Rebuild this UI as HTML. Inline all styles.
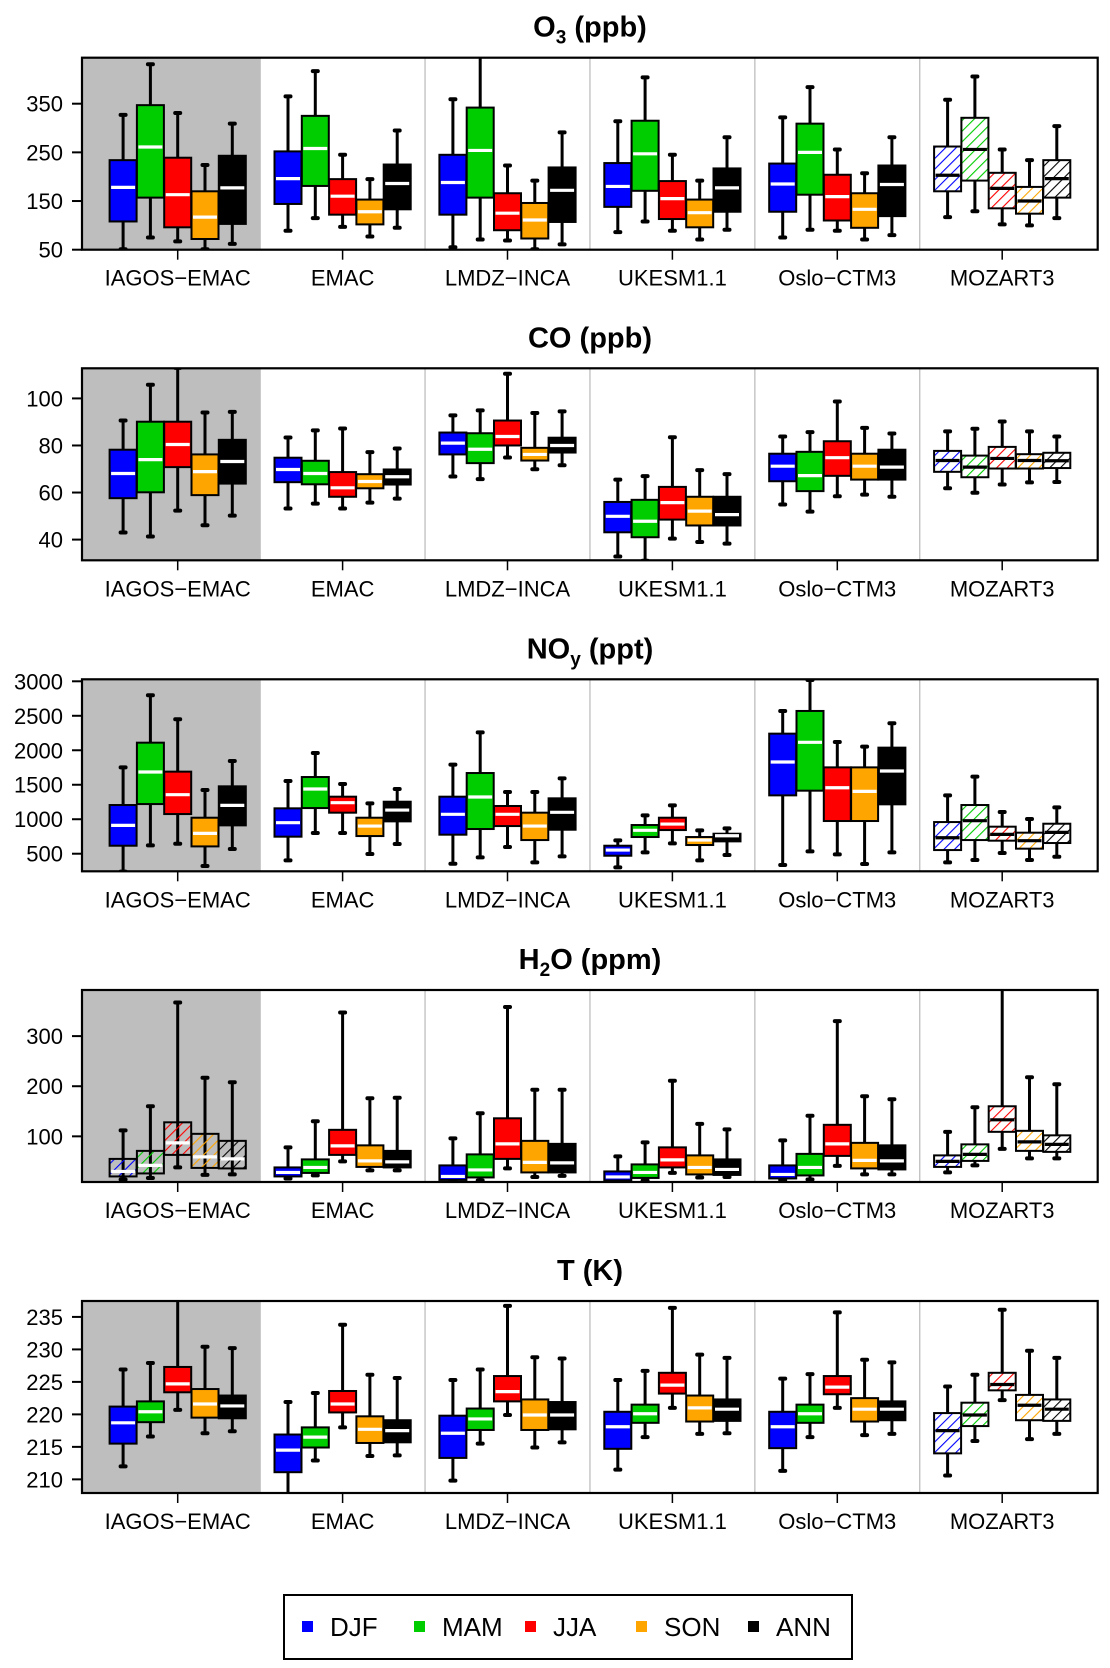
<!DOCTYPE html>
<html><head><meta charset="utf-8"><style>
html,body{margin:0;padding:0;background:#fff;}
svg{display:block;font-family:"Liberation Sans",sans-serif;}
</style></head><body>
<svg id="chart" width="1110" height="1668" viewBox="0 0 1110 1668" xmlns="http://www.w3.org/2000/svg">
<defs id="defs"></defs>
</svg>
<script>
const models = ["IAGOS\u2212EMAC","EMAC","LMDZ\u2212INCA","UKESM1.1","Oslo\u2212CTM3","MOZART3"];
const seasons = ["DJF","MAM","JJA","SON","ANN"];
const seasonColors = ["#0000ff","#00cd00","#ff0000","#ffa500","#000000"];

// O3 (ppb): per model, per season
const o3Hi  = [[327,431,331,224,309],[365,417,245,195,295],[359,450,223,192,291],[314,404,245,192,281],[322,384,256,207,281],[358,406,256,234,304]];
const o3Q3  = [[234,347,239,170,243],[252,325,195,153,225],[245,342,166,146,219],[228,315,191,153,217],[227,309,204,166,223],[262,321,208,179,234]];
const o3Med = [[178,261,163,117,177],[196,258,160,128,186],[188,254,125,111,172],[180,247,155,126,177],[185,250,159,133,184],[203,256,176,150,196]];
const o3Q1  = [[108,157,96,72,103],[144,181,122,102,133],[122,157,90,73,107],[138,171,113,96,128],[128,163,110,95,119],[170,192,135,124,157]];
const o3Lo  = [[51,75,67,51,62],[89,115,97,77,95],[55,71,69,51,61],[86,108,89,71,91],[75,91,89,71,80],[117,129,102,100,115]];

// CO (ppb)
const coHi  = [[90.6,105.8,113,94.0,94.3],[83.4,86.4,87.2,77.2,78.7],[92.8,94.9,110.5,93.8,94.5],[65.5,67.0,83.5,69.5,67.8],[83.8,85.7,98.7,87.5,85.1],[86.0,87.1,90.2,86.0,83.8]];
const coQ3  = [[78.2,90.1,90.1,76.2,82.4],[74.8,73.5,68.7,67.8,69.8],[85.5,85.2,90.6,79.0,83.3],[56.0,56.9,62.4,58.2,58.2],[76.5,77.3,81.8,76.5,78.2],[77.7,75.7,79.4,76.3,76.9]];
const coMed = [[68.1,74.0,80.4,68.9,73.2],[69.8,68.1,62.0,64.7,66.7],[81.0,78.4,83.8,76.2,80.0],[49.9,47.8,55.7,52.1,50.6],[71.2,67.2,74.8,71.2,70.8],[73.6,70.8,74.5,73.6,73.5]];
const coQ1  = [[57.6,60.1,70.8,58.9,63.8],[64.4,63.5,58.2,61.8,63.4],[76.2,72.5,80.0,73.6,77.0],[43.1,41.0,48.5,46.0,46.0],[64.8,60.6,67.1,65.5,65.5],[68.8,66.5,70.2,70.2,70.4]];
const coLo  = [[43.0,41.3,52.3,46.1,50.2],[53.2,55.3,53.2,55.7,57.4],[66.8,65.7,74.9,69.9,71.6],[32.8,31.0,40.4,39.0,38.3],[54.9,51.9,58.4,59.1,58.2],[61.8,59.9,63.4,64.3,64.5]];

// NOy (ppt)
const noyHi  = [[1752,2797,2449,1424,1844],[1554,1960,1511,1230,1438],[1791,2260,1394,1394,1593],[693,1056,1201,839,868],[2570,3019,2120,2052,2391],[1346,1617,1104,1003,1172]];
const noyQ3  = [[1206,2110,1690,1022,1477],[1158,1612,1327,1022,1254],[1327,1670,1192,1095,1303],[616,916,1022,742,790],[2241,2570,1752,1752,2038],[959,1206,892,805,935]];
const noyMed = [[911,1685,1356,795,1201],[950,1438,1240,901,1133],[1071,1322,1071,901,1100],[553,839,930,698,761],[1830,2115,1457,1404,1699],[732,979,780,689,809]];
const noyQ1  = [[616,1220,1075,606,911],[747,1162,1095,756,969],[776,858,901,698,848],[471,742,843,626,679],[1346,1414,974,974,1216],[553,698,689,573,655]];
const noyLo  = [[240,621,645,321,568],[403,800,800,495,640],[355,447,597,374,461],[302,519,650,403,481],[336,534,490,350,519],[374,408,510,408,456]];

// H2O (ppm)
const h2oHi  = [[112,160,367,217,208],[78,130,347,176,177],[96,146,358,193,193],[60,88,211,125,114],[92,141,330,180,174],[109,158,395,218,204]];
const h2oQ3  = [[55,71,128,105,91],[38,54,113,82,71],[42,64,136,91,85],[30,44,78,62,54],[42,65,123,87,82],[62,84,160,111,102]];
const h2oMed = [[30,42,87,59,55],[28,38,81,51,49],[20,33,85,48,47],[19,28,53,38,34],[24,38,85,52,51],[50,64,133,89,84]];
const h2oQ1  = [[20,26,63,37,36],[20,27,63,39,38],[13,18,55,28,28],[12,17,38,24,23],[16,22,61,36,34],[39,51,109,71,69]];
const h2oLo  = [[14,17,38,23,24],[16,22,50,32,32],[12,12,36,19,21],[11,12,27,18,19],[13,14,41,24,24],[28,42,75,56,56]];

// T (K)
const tHi  = [[226.9,227.9,238,230.4,230.2],[221.9,223.3,233.8,226.1,225.6],[225.3,226.9,236.7,228.8,228.6],[225.3,226.7,236.4,229.2,228.7],[225.5,226.2,235.7,228.4,228.0],[224.3,226.1,236.1,229.8,228.7]];
const tQ3  = [[221.2,222.0,227.3,223.9,222.9],[216.9,218.0,223.6,219.7,219.1],[219.8,220.9,225.9,222.3,221.9],[220.4,221.5,226.4,222.9,222.3],[220.4,221.5,225.9,222.5,222.0],[220.2,221.8,226.4,223.0,222.3]];
const tMed = [[218.7,220.4,224.7,221.6,221.3],[214.5,216.5,221.6,217.7,217.5],[217.1,219.3,223.5,219.9,219.9],[218.1,220.1,224.5,221.0,220.8],[218.1,220.1,224.2,220.8,220.8],[217.5,219.9,224.6,221.4,220.8]];
const tQ1  = [[215.5,218.8,223.4,219.5,219.4],[211.1,214.9,220.3,215.6,215.7],[213.3,217.6,222.0,217.6,217.7],[214.7,218.7,223.2,218.9,219.0],[214.8,218.7,223.1,218.9,219.1],[214.0,218.2,223.7,219.1,219.0]];
const tLo  = [[212.0,216.6,220.7,217.1,217.4],[207.5,212.9,218.0,213.6,213.7],[209.8,215.5,219.9,214.9,215.7],[211.5,216.5,221.0,217.0,217.1],[211.3,216.5,221.0,216.8,217.0],[210.6,215.9,222.2,216.2,217.0]];

const o3Ticks = [50,150,250,350];
const coTicks = [40,60,80,100];
const noyTicks = [500,1000,1500,2000,2500,3000];
const h2oTicks = [100,200,300];
const tTicks = [210,215,220,225,230,235];

const panels = [
  {key:"o3", title:["O","3"," (ppb)"], top:57.7, vTop:444.5, vBot:50, ticks:o3Ticks, hi:o3Hi,q3:o3Q3,med:o3Med,q1:o3Q1,lo:o3Lo, hatchIagos:false},
  {key:"co", title:["CO","",""," (ppb)"], top:368.3, vTop:112.8, vBot:31.2, ticks:coTicks, hi:coHi,q3:coQ3,med:coMed,q1:coQ1,lo:coLo, hatchIagos:false},
  {key:"noy", title:["NO","y"," (ppt)"], top:679.3, vTop:3029, vBot:245, ticks:noyTicks, hi:noyHi,q3:noyQ3,med:noyMed,q1:noyQ1,lo:noyLo, hatchIagos:false},
  {key:"h2o", title:["H","2","O (ppm)"], top:990, vTop:392, vBot:8.9, ticks:h2oTicks, hi:h2oHi,q3:h2oQ3,med:h2oMed,q1:h2oQ1,lo:h2oLo, hatchIagos:true},
  {key:"t", title:["T (K)"], top:1301, vTop:237.45, vBot:207.9, ticks:tTicks, hi:tHi,q3:tQ3,med:tMed,q1:tQ1,lo:tLo, hatchIagos:false}
];

const NS = "http://www.w3.org/2000/svg";
const svg = document.getElementById("chart");
const defs = document.getElementById("defs");
const PL = 82, PR = 1097.7, PH = 192;
const G0 = 177.7, GS = 164.9, BS = 27.3, BW = 27;
function el(tag, attrs, parent){const e=document.createElementNS(NS,tag);for(const k in attrs)e.setAttribute(k,attrs[k]);(parent||svg).appendChild(e);return e;}

seasonColors.forEach((c,i)=>{
  const p = el("pattern",{id:"hatch"+i,patternUnits:"userSpaceOnUse",width:7.5,height:8,patternTransform:"rotate(45)"},defs);
  el("line",{x1:0,y1:-1,x2:0,y2:9,stroke:c,"stroke-width":2.2},p);
});

panels.forEach((P,pi)=>{
  const g = el("g",{});
  
  
  const y = v => P.top + (P.vTop - v)/(P.vTop - P.vBot)*PH;
  const bottom = P.top + PH;
  const cp = el("clipPath",{id:"clip"+pi},defs);
  el("rect",{x:PL,y:P.top,width:PR-PL,height:PH},cp);
  const t = el("text",{x:590,y:P.top-21,"text-anchor":"middle","font-size":29,"font-weight":"bold"},g);
  
  
  if(P.title.length===1){t.textContent=P.title[0];}
  else{
    const a=document.createElementNS(NS,"tspan");a.textContent=P.title[0];t.appendChild(a);
    if(P.title[1]){const s=document.createElementNS(NS,"tspan");s.setAttribute("font-size","19");s.setAttribute("dy","7");s.textContent=P.title[1];t.appendChild(s);
      const r=document.createElementNS(NS,"tspan");r.setAttribute("dy","-7");r.textContent=P.title[2];t.appendChild(r);}
    else{const r=document.createElementNS(NS,"tspan");r.textContent=P.title[3];t.appendChild(r);}
  }
  const bg = el("rect",{x:PL,y:P.top,width:260-PL,height:PH,fill:"#bebebe"},g);
  
  
  for(let k=1;k<6;k++){
    const sx = G0 + (k-0.5)*GS;
    el("line",{x1:sx,y1:P.top,x2:sx,y2:bottom,stroke:"#bebebe","stroke-width":1.3},g);
  }
  P.ticks.forEach(v=>{
    const ty=y(v);
    el("line",{x1:72,y1:ty,x2:PL,y2:ty,stroke:"#000","stroke-width":2},g);
    const tl = el("text",{x:63,y:ty+8,"text-anchor":"end","font-size":22},g);
    
    
    tl.textContent=v;
  });
  const bx = el("g",{"clip-path":"url(#clip"+pi+")"},g);
  models.forEach((m,mi)=>{
    seasons.forEach((s,si)=>{
      const cx = G0 + mi*GS + (si-2)*BS;
      const hatched = mi===5 || (P.hatchIagos && mi===0);
      const bg2 = el("g",{},bx);
      
      
      const yh=y(P.hi[mi][si]), y3=y(P.q3[mi][si]), ym=y(P.med[mi][si]), y1=y(P.q1[mi][si]), yl=y(P.lo[mi][si]);
      el("line",{x1:cx,y1:yh,x2:cx,y2:yl,stroke:"#000","stroke-width":3},bg2);
      el("line",{x1:cx-2.5,y1:yh,x2:cx+2.5,y2:yh,stroke:"#000","stroke-width":4,"stroke-linecap":"round"},bg2);
      el("line",{x1:cx-2.5,y1:yl,x2:cx+2.5,y2:yl,stroke:"#000","stroke-width":4,"stroke-linecap":"round"},bg2);
      if(hatched){
        if(mi===5) el("rect",{x:cx-BW/2,y:y3,width:BW,height:y1-y3,fill:"#fff"},bg2);
        el("rect",{x:cx-BW/2,y:y3,width:BW,height:y1-y3,fill:"url(#hatch"+si+")",stroke:"#000","stroke-width":2},bg2);
      } else {
        el("rect",{x:cx-BW/2,y:y3,width:BW,height:y1-y3,fill:seasonColors[si],stroke:"#000","stroke-width":2},bg2);
      }
      const mc = (mi===5) ? "#000" : "#fff";
      el("line",{x1:cx-BW/2+1.5,y1:ym,x2:cx+BW/2-1.5,y2:ym,stroke:mc,"stroke-width":3.2},bg2);
    });
  });
  el("rect",{x:PL,y:P.top,width:PR-PL,height:PH,fill:"none",stroke:"#000","stroke-width":2.2},g);
  models.forEach((m,mi)=>{
    const gx = G0 + mi*GS;
    el("line",{x1:gx,y1:bottom,x2:gx,y2:bottom+10,stroke:"#000","stroke-width":1.5},g);
    const xl = el("text",{x:gx,y:bottom+36,"text-anchor":"middle","font-size":22},g);
    
    
    xl.textContent=m;
  });
});

const lg = el("g",{});


el("rect",{x:284,y:1595,width:568,height:64,fill:"#fff",stroke:"#000","stroke-width":2},lg);
const legX = [302,414,525,636,748];
seasons.forEach((s,i)=>{
  const e = el("g",{},lg);
  
  
  el("rect",{x:legX[i],y:1621,width:11,height:11,fill:seasonColors[i]},e);
  const tx = el("text",{x:legX[i]+28,y:1636,"font-size":26},e);
  tx.textContent=s;
});
</script>
</body></html>
